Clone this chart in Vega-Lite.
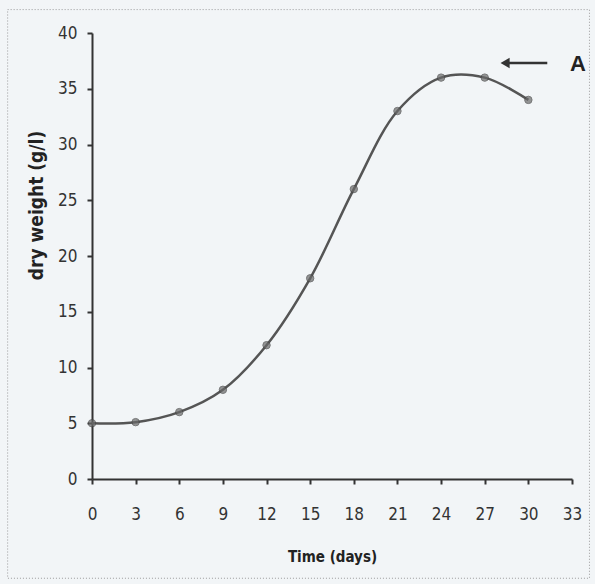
{
  "$schema": "https://vega.github.io/schema/vega-lite/v6.json",
  "autosize": "none",
  "width": 480,
  "height": 446,
  "padding": {"left": 92, "top": 33, "right": 23, "bottom": 105},
  "background": "#f2f5f7",
  "config": {
    "view": {"stroke": null},
    "axis": {
      "grid": false,
      "domainColor": "#333333",
      "domainWidth": 2,
      "tickColor": "#333333",
      "tickWidth": 2,
      "tickSize": 5,
      "labelFont": "DejaVu Sans Condensed, Liberation Sans Narrow, Liberation Sans",
      "labelFontSize": 17,
      "labelColor": "#333333",
      "labelFlush": false,
      "titleFont": "DejaVu Sans Condensed, Liberation Sans Narrow, Liberation Sans",
      "titleFontSize": 15,
      "titleFontWeight": "bold",
      "titleColor": "#222222"
    }
  },
  "datasets": {
    "growth": [
      {"day": 0, "weight": 5},
      {"day": 3, "weight": 5.1},
      {"day": 6, "weight": 6},
      {"day": 9, "weight": 8},
      {"day": 12, "weight": 12},
      {"day": 15, "weight": 18},
      {"day": 18, "weight": 26},
      {"day": 21, "weight": 33},
      {"day": 24, "weight": 36},
      {"day": 27, "weight": 36},
      {"day": 30, "weight": 34}
    ],
    "arrow": [{"x1": 28.4, "x2": 31.3, "y": 37.3}],
    "label": [{"x": 33.4, "y": 37.2, "text": "A"}],
    "frame": [{"x1": -5.8, "x2": 34.2, "y1": -8.9, "y2": 42.1}]
  },
  "layer": [
    {
      "data": {"name": "frame"},
      "mark": {"type": "rect", "fill": null, "stroke": "#9a9a9a", "strokeWidth": 1, "strokeDash": [1, 2], "clip": false},
      "encoding": {
        "x": {"field": "x1", "type": "quantitative", "scale": {"domain": [0, 33], "nice": false, "zero": false}},
        "x2": {"field": "x2"},
        "y": {"field": "y1", "type": "quantitative", "scale": {"domain": [0, 40], "nice": false, "zero": false}},
        "y2": {"field": "y2"}
      }
    },
    {
      "data": {"name": "growth"},
      "mark": {"type": "line", "interpolate": "catmull-rom", "color": "#555555", "strokeWidth": 2.5},
      "encoding": {
        "x": {
          "field": "day", "type": "quantitative",
          "scale": {"domain": [0, 33], "nice": false},
          "axis": {"values": [0, 3, 6, 9, 12, 15, 18, 21, 24, 27, 30, 33], "title": "Time (days)", "labelPadding": 22, "titlePadding": 27}
        },
        "y": {
          "field": "weight", "type": "quantitative",
          "scale": {"domain": [0, 40], "nice": false},
          "axis": {"values": [0, 5, 10, 15, 20, 25, 30, 35, 40], "title": "dry weight (g/l)", "labelPadding": 10, "titleFontSize": 19, "titleX": -56, "titleY": 172, "titleBaseline": "middle", "titleAlign": "center"}
        }
      }
    },
    {
      "data": {"name": "growth"},
      "mark": {"type": "point", "shape": "circle", "filled": true, "size": 55, "color": "#6a6a6a", "stroke": "#444444", "strokeWidth": 1},
      "encoding": {
        "x": {"field": "day", "type": "quantitative"},
        "y": {"field": "weight", "type": "quantitative"}
      }
    },
    {
      "data": {"name": "arrow"},
      "mark": {"type": "rule", "color": "#333333", "strokeWidth": 2.5, "clip": false},
      "encoding": {
        "x": {"field": "x1", "type": "quantitative"},
        "x2": {"field": "x2"},
        "y": {"field": "y", "type": "quantitative"}
      }
    },
    {
      "data": {"name": "arrow"},
      "mark": {"type": "point", "shape": "triangle-left", "filled": true, "size": 110, "color": "#333333", "opacity": 1},
      "encoding": {
        "x": {"field": "x1", "type": "quantitative"},
        "y": {"field": "y", "type": "quantitative"}
      }
    },
    {
      "data": {"name": "label"},
      "mark": {"type": "text", "font": "Liberation Sans", "fontSize": 22, "fontWeight": "bold", "color": "#222222", "clip": false},
      "encoding": {
        "x": {"field": "x", "type": "quantitative"},
        "y": {"field": "y", "type": "quantitative"},
        "text": {"field": "text"}
      }
    }
  ]
}
